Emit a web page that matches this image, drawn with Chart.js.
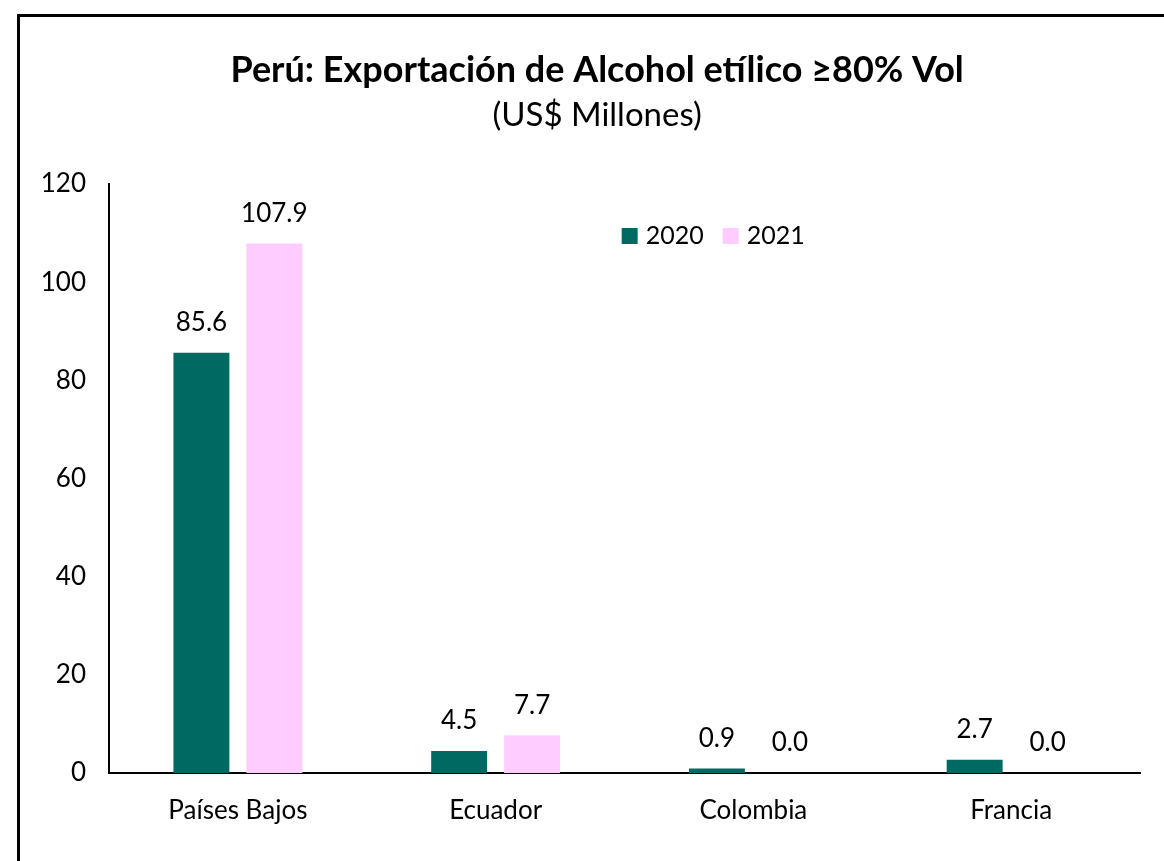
<!DOCTYPE html>
<html>
<head>
<meta charset="utf-8">
<script src="https://cdn.jsdelivr.net/npm/chart.js@4.4.1/dist/chart.umd.min.js"></script>
<style>
  html, body { margin: 0; padding: 0; background: #fff; overflow: hidden; }
  #frame {
    position: absolute; left: 17px; top: 14px; width: 1300px; height: 1000px;
    border-left: 3px solid #000; border-top: 3px solid #000;
  }
  #wrap { position: absolute; left: 0; top: 0; width: 1164px; height: 861px; }
</style>
</head>
<body>
<div id="frame"></div>
<div id="wrap"><canvas id="chart" width="1164" height="861"></canvas></div>
<script>
const categories = ["Países Bajos", "Ecuador", "Colombia", "Francia"];
const values2020 = [85.6, 4.5, 0.9, 2.7];
const values2021 = [107.9, 7.7, 0.0, 0.0];
const seriesNames = ["2020", "2021"];
const titleText = "Perú: Exportación de Alcohol etílico ≥80% Vol";
const subtitleText = "(US$ Millones)";

const FONT = "Lato";

// título centrado sobre todo el recuadro (no solo sobre el área del gráfico)
const headerTitle = {
  id: "headerTitle",
  afterDraw(chart) {
    const ctx = chart.ctx;
    const cx = chart.width * 0.513;
    ctx.save();
    ctx.fillStyle = "#000";
    ctx.textAlign = "center";
    ctx.textBaseline = "middle";
    ctx.font = "bold 36px " + FONT;
    ctx.fillText(titleText, cx, 70);
    ctx.font = "33px " + FONT;
    ctx.fillText(subtitleText, cx, 115);
    ctx.restore();
  }
};

// etiquetas de valor encima de cada barra
const valueLabels = {
  id: "valueLabels",
  afterDatasetsDraw(chart) {
    const ctx = chart.ctx;
    ctx.save();
    ctx.font = "26px " + FONT;
    ctx.fillStyle = "#000";
    ctx.textAlign = "center";
    ctx.textBaseline = "middle";
    chart.data.datasets.forEach((ds, i) => {
      chart.getDatasetMeta(i).data.forEach((el, j) => {
        ctx.fillText(ds.data[j].toFixed(1), el.x, el.y - 30);
      });
    });
    ctx.restore();
  }
};

// leyenda dentro del área del gráfico
const innerLegend = {
  id: "innerLegend",
  afterDraw(chart) {
    const ctx = chart.ctx;
    const area = chart.chartArea;
    ctx.save();
    ctx.font = "25px " + FONT;
    ctx.textBaseline = "middle";
    const box = 16, gap = 8, between = 19;
    const items = chart.data.datasets.map(ds => ({ text: ds.label, color: ds.backgroundColor, w: ctx.measureText(ds.label).width }));
    const total = items.reduce((s, it) => s + box + gap + it.w, 0) + between * (items.length - 1);
    let x = area.left + area.width * 0.586 - total / 2;
    const y = area.top + 52;
    items.forEach(it => {
      ctx.fillStyle = it.color;
      ctx.fillRect(x, y - box / 2, box, box);
      x += box + gap;
      ctx.fillStyle = "#000";
      ctx.fillText(it.text, x, y);
      x += it.w + between;
    });
    ctx.restore();
  }
};

new Chart(document.getElementById("chart"), {
  type: "bar",
  data: {
    labels: categories,
    datasets: [
      { label: seriesNames[0], data: values2020, backgroundColor: "#006A62" },
      { label: seriesNames[1], data: values2021, backgroundColor: "#FFCCFF" }
    ]
  },
  options: {
    responsive: false,
    animation: false,
    layout: { padding: { left: 0, right: 24, top: 184, bottom: 0 } },
    datasets: { bar: { categoryPercentage: 0.566, barPercentage: 0.767 } },
    plugins: {
      legend: { display: false },
      tooltip: { enabled: false },
      title: { display: false }
    },
    scales: {
      x: {
        grid: { display: false },
        border: { color: "#000", width: 2 },
        ticks: { color: "#000", font: { family: FONT, size: 26 }, padding: 14 },
        afterFit(scale) { scale.height = 88; }
      },
      y: {
        min: 0, max: 120,
        grid: { display: false },
        border: { color: "#000", width: 2 },
        ticks: { stepSize: 20, color: "#000", font: { family: FONT, size: 26 }, padding: 15 },
        afterFit(scale) { scale.width = 109; }
      }
    }
  },
  plugins: [headerTitle, valueLabels, innerLegend]
});
</script>
</body>
</html>
